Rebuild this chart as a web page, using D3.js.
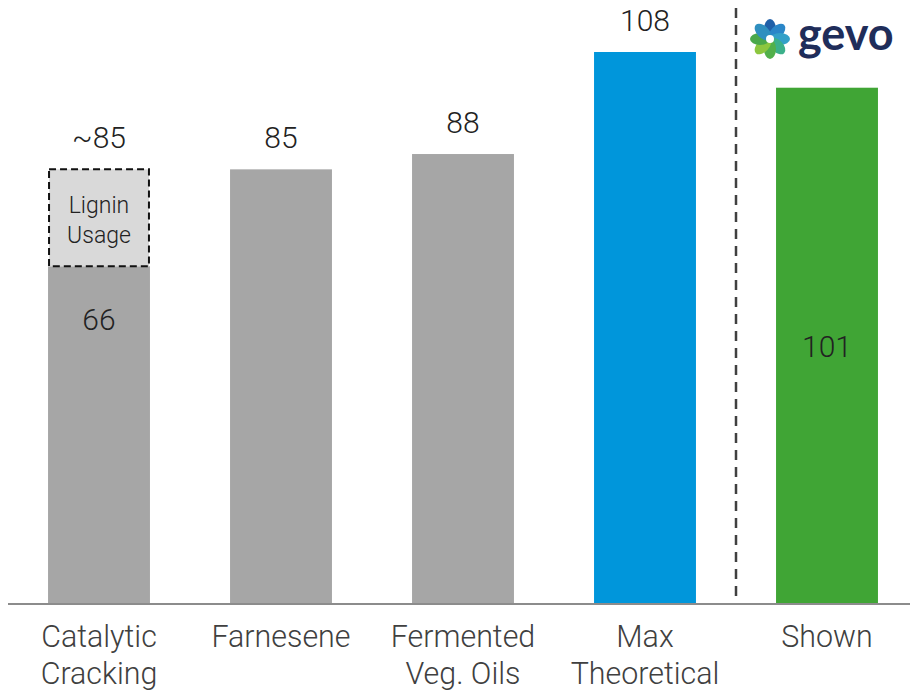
<!DOCTYPE html>
<html><head><meta charset="utf-8">
<script src="https://cdn.jsdelivr.net/npm/d3@7"></script>
<style>body{margin:0;background:#fff}svg{display:block}text{font-family:Roboto,"Open Sans",sans-serif;font-weight:300}</style>
</head><body><svg id="c" width="910" height="691"></svg>
<script>
const categories = [["Catalytic","Cracking"],["Farnesene"],["Fermented","Veg. Oils"],["Max","Theoretical"],["Shown"]];
const values = [66,85,88,108,101];
const labels = ["66","85","88","108","101"];
const colors = ["#a6a6a6","#a6a6a6","#a6a6a6","#0096db","#40a535"];
const ligninRange = [66,85];
const ligninLabel = "~85";
const ligninText = ["Lignin","Usage"];

const svg = d3.select("#c");
const x = d3.scaleBand().domain(d3.range(values.length)).range([8,918]).paddingInner(0.44).paddingOuter(0.22);
const y = d3.scaleLinear().domain([0,108]).range([603,52]);

svg.selectAll("rect.bar").data(values).join("rect").attr("class","bar")
  .attr("x",(d,i)=>x(i)).attr("width",x.bandwidth())
  .attr("y",d=>y(d)).attr("height",d=>y(0)-y(d)).attr("fill",(d,i)=>colors[i]);

svg.append("rect").attr("x",x(0)+1).attr("width",x.bandwidth()-2)
  .attr("y",y(ligninRange[1])).attr("height",y(ligninRange[0])-y(ligninRange[1]))
  .attr("fill","#d9d9d9").attr("stroke","#111").attr("stroke-width",2).attr("stroke-dasharray","7,4");
const cx0 = x(0)+x.bandwidth()/2, cy0 = (y(ligninRange[1])+y(ligninRange[0]))/2;
ligninText.forEach((t,j)=>{
  svg.append("text").attr("x",cx0).attr("y",cy0-5+j*30).attr("text-anchor","middle")
    .attr("font-size",23).attr("fill","#222").text(t);
});

const fs = 30;
svg.append("text").attr("x",cx0).attr("y",y(ligninRange[1])-21).attr("text-anchor","middle")
  .attr("font-size",fs).attr("fill","#222").text(ligninLabel);
values.forEach((v,i)=>{
  let ty;
  if(i===0) ty = y(v)+64;
  else if(i===4) ty = (y(v)+y(0))/2+12;
  else ty = y(v)-21;
  svg.append("text").attr("x",x(i)+x.bandwidth()/2).attr("y",ty).attr("text-anchor","middle")
    .attr("font-size",fs).attr("fill","#222").text(labels[i]);
});

svg.append("line").attr("x1",8).attr("x2",910).attr("y1",y(0)+1).attr("y2",y(0)+1).attr("stroke","#8c8c8c").attr("stroke-width",2);

categories.forEach((lines,i)=>{
  lines.forEach((t,j)=>{
    svg.append("text").attr("transform",`translate(${x(i)+x.bandwidth()/2},${647+j*37}) scale(0.95,1)`)
      .attr("text-anchor","middle").attr("font-size",32).attr("fill","#404040").text(t);
  });
});

const sepX = (x(3)+x.bandwidth()+x(4))/2;
svg.append("line").attr("x1",sepX).attr("x2",sepX).attr("y1",8).attr("y2",y(0)).attr("stroke","#404040").attr("stroke-width",2.5).attr("stroke-dasharray","10,7");

const lg = svg.append("g").attr("transform","translate(770,39)");
const petalColors = ["#1f5fa8","#2a86c8","#33a0c8","#3bb08a","#52b04a","#8cc63f","#4aa84a","#2f8fbf"];
petalColors.forEach((c,k)=>{
  lg.append("ellipse").attr("cx",0).attr("cy",-10).attr("rx",6).attr("ry",10).attr("fill",c)
    .attr("transform",`rotate(${k*45})`);
});
lg.append("circle").attr("r",4).attr("fill","#fff");
svg.append("text").attr("x",798).attr("y",50).attr("font-size",45).attr("fill","#1f2d5a")
  .style("font-weight",700).style("font-family","Lato, sans-serif").text("gevo");
</script></body></html>
